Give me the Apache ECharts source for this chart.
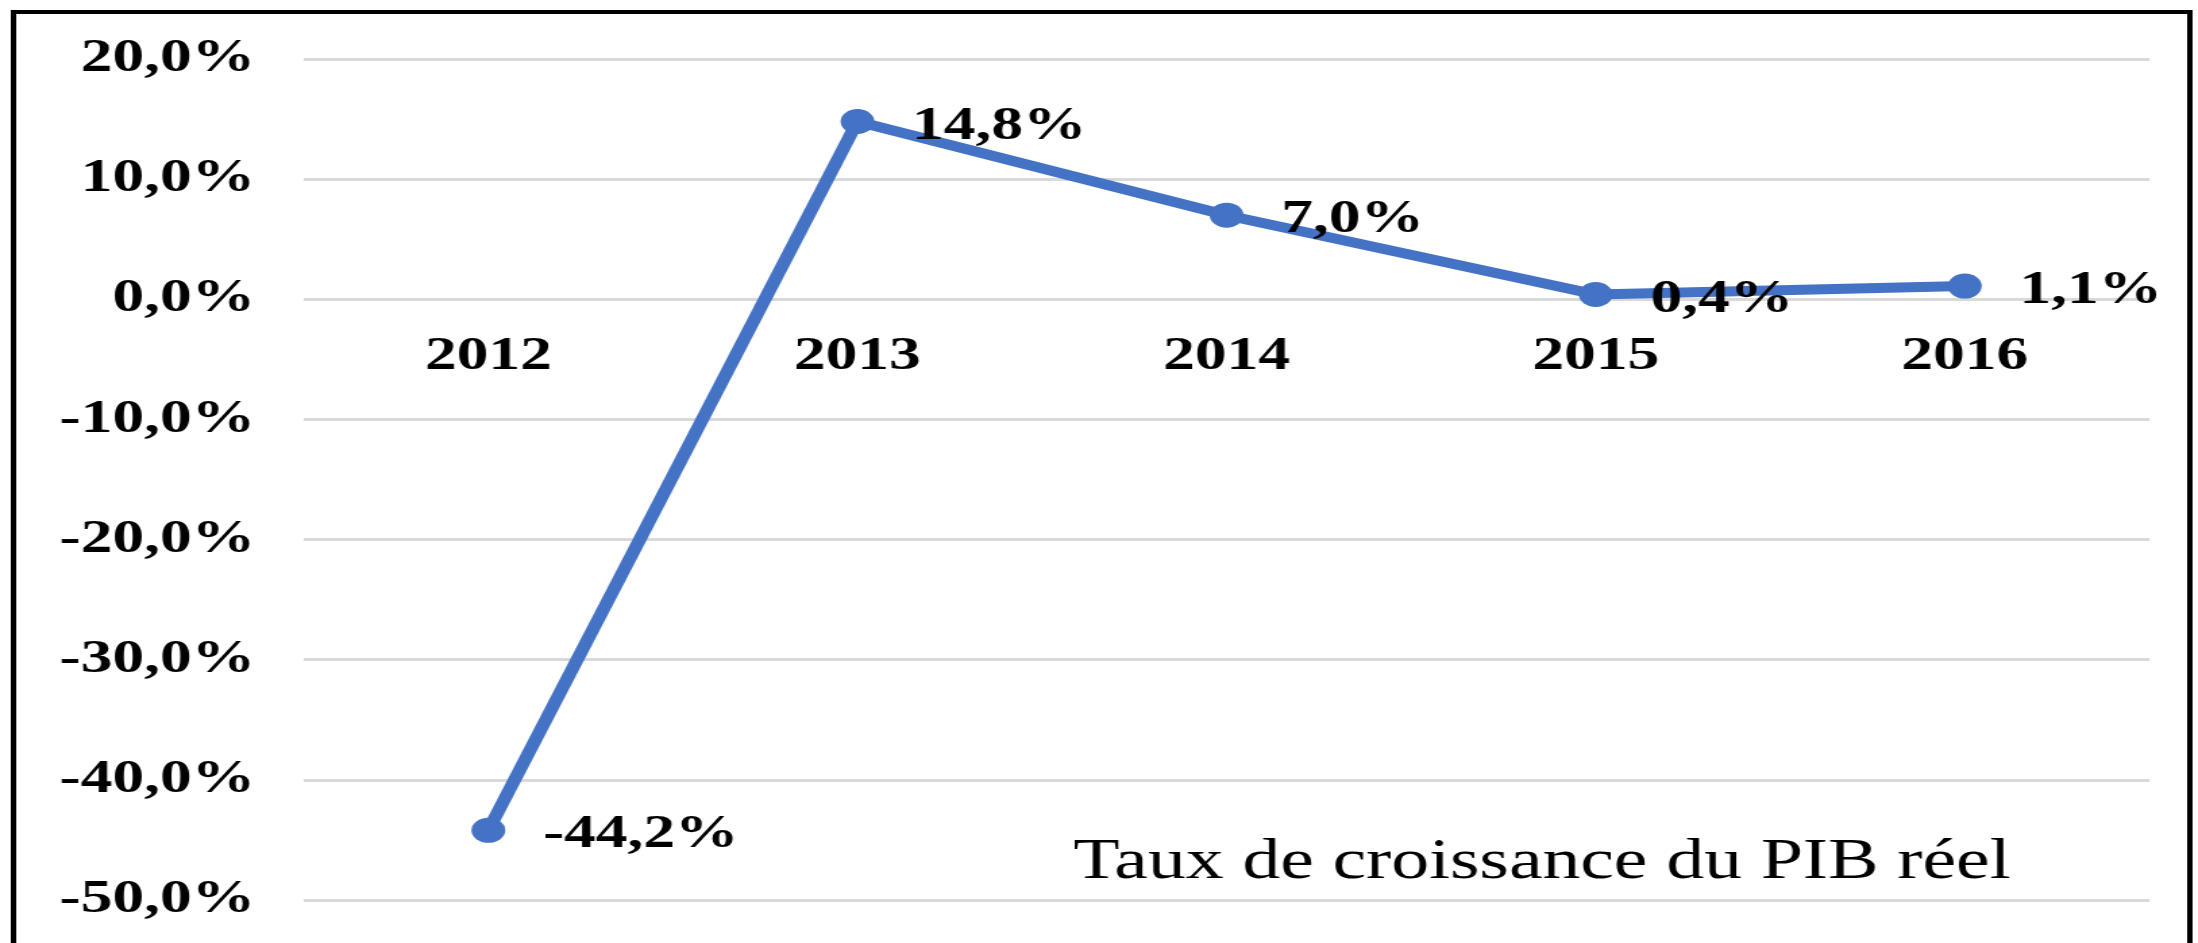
<!DOCTYPE html>
<html lang="fr">
<head>
    <meta charset="UTF-8">
    <title>Taux de croissance du PIB réel</title>
    <script src="https://cdn.jsdelivr.net/npm/echarts@6/dist/echarts.min.js"></script>
    <style>
        html, body { margin: 0; padding: 0; background: #fff; overflow: hidden; }
        /* the source picture is stretched sideways, so the chart is drawn narrower and widened */
        #main { width: 1628px; height: 943px; transform: scaleX(1.3501); transform-origin: 0 0; }
    </style>
</head>
<body>
<div id="main"></div>
<script>
    // données
    var years = ['2012', '2013', '2014', '2015', '2016'];
    var growth = [-44.2, 14.8, 7.0, 0.4, 1.1];
    var seriesName = 'Taux de croissance du PIB réel';
    var yMin = -50, yMax = 20, yStep = 10;

    var serif = "'Liberation Serif', 'Times New Roman', serif";
    var gridTop = 59, gridBottom = 43, chartH = 943;

    function pct(v) {
        return v.toFixed(1).replace('.', ',') + '%';
    }

    // les années sont écrites sous la ligne du zéro, comme dans Excel
    var zeroShift = -(chartH - gridTop - gridBottom) * (0 - yMin) / (yMax - yMin);

    var myChart = echarts.init(document.getElementById('main'));
    var option = {
        animation: false,
        backgroundColor: '#fff',
        title: {
            text: seriesName,
            left: 790,
            top: 830,
            textStyle: {
                fontFamily: serif,
                fontWeight: 'normal',
                fontSize: 56,
                color: '#000'
            }
        },
        graphic: [{
            type: 'rect',
            shape: { x: 10, y: 12, width: 1612, height: 960 },
            style: { fill: null, stroke: '#000', lineWidth: 4 }
        }],
        grid: {
            left: 225,
            right: 36,
            top: gridTop,
            bottom: gridBottom,
            containLabel: false,
            outerBoundsMode: 'none'
        },
        xAxis: {
            type: 'category',
            data: years,
            position: 'bottom',
            offset: zeroShift,
            axisLine: { show: false, onZero: false },
            axisTick: { show: false },
            axisLabel: {
                margin: 34,
                fontFamily: serif,
                fontWeight: 'bold',
                fontSize: 47,
                color: '#000'
            }
        },
        yAxis: {
            type: 'value',
            min: yMin,
            max: yMax,
            interval: yStep,
            axisLine: { show: false },
            axisTick: { show: false },
            axisLabel: {
                margin: 36,
                fontFamily: serif,
                fontWeight: 'bold',
                fontSize: 47,
                color: '#000',
                formatter: pct
            },
            splitLine: { lineStyle: { color: '#d9d9d9', width: 3 } }
        },
        series: [{
            name: seriesName,
            type: 'line',
            data: growth,
            symbol: 'circle',
            symbolSize: 25,
            lineStyle: { color: '#4472c4', width: 10 },
            itemStyle: { color: '#4472c4' },
            label: {
                show: true,
                position: 'right',
                distance: 28,
                offset: [0, 5],
                fontFamily: serif,
                fontWeight: 'bold',
                fontSize: 47,
                color: '#000',
                formatter: function (p) { return pct(p.value); }
            }
        }]
    };
    myChart.setOption(option);
</script>
</body>
</html>
